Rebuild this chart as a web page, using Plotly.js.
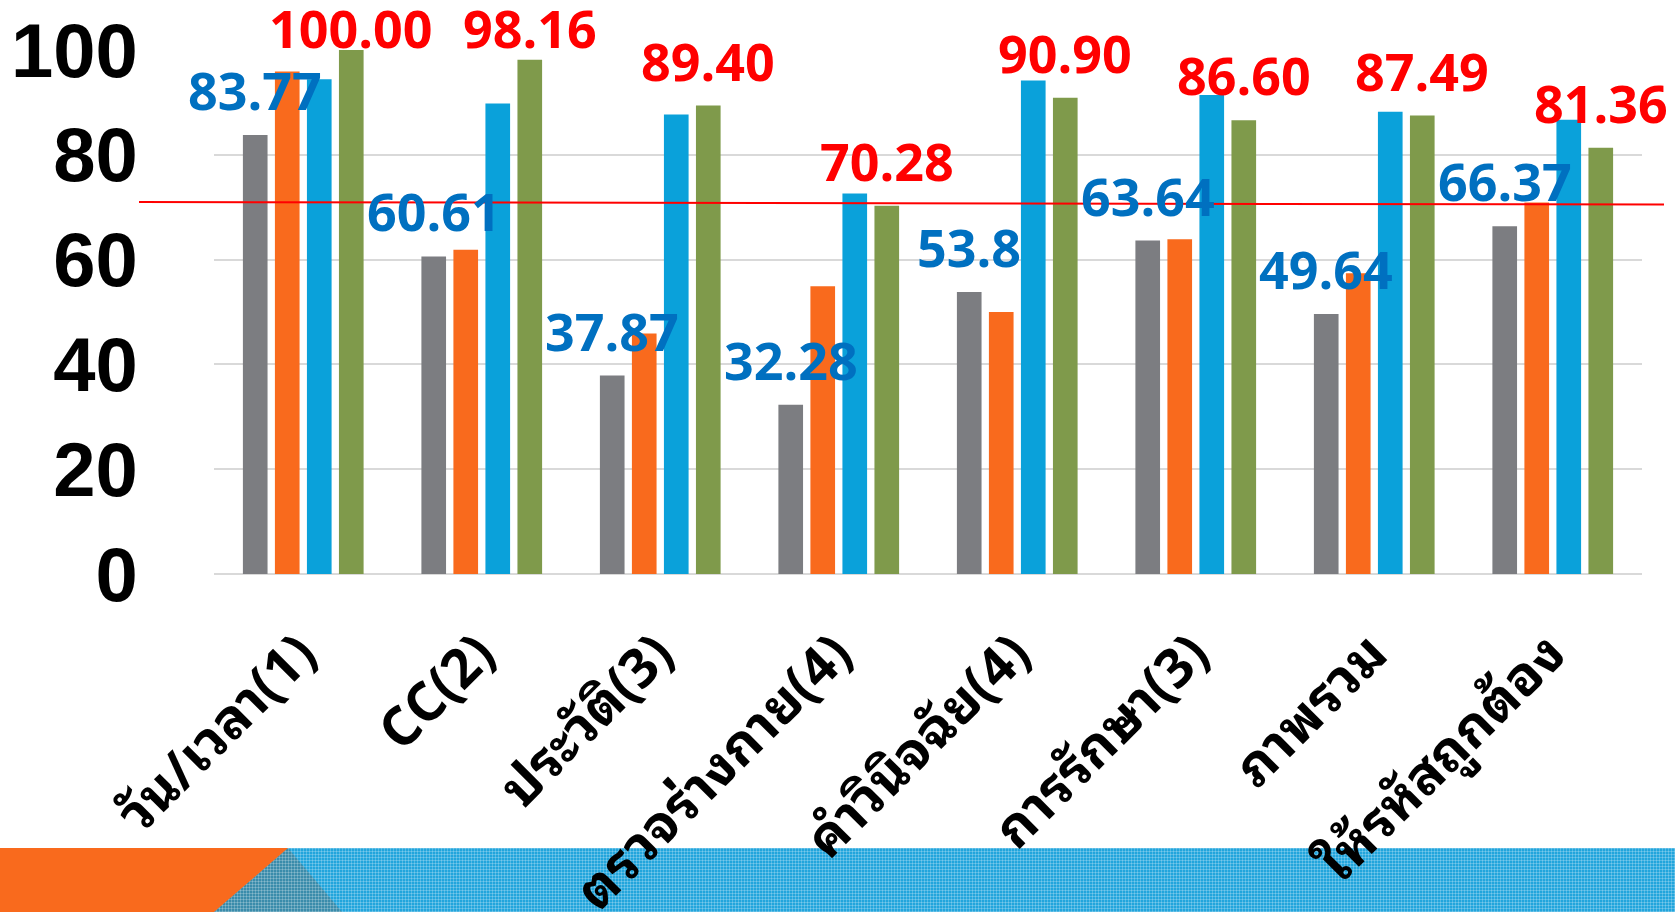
<!DOCTYPE html>
<html>
<head>
<meta charset="utf-8">
<script src="https://cdn.plot.ly/plotly-3.0.1.min.js"></script>
<style>
  html, body { margin: 0; padding: 0; background: #ffffff; }
  #wrap { position: relative; width: 1675px; height: 912px; overflow: hidden; }
  .band { position: absolute; left: 0; top: 848px; width: 1675px; height: 64px; }
  .dots {
    background-image:
      linear-gradient(90deg, rgba(255,255,255,0.22) 1px, transparent 1px),
      linear-gradient(rgba(255,255,255,0.22) 1px, transparent 1px);
    background-size: 3px 3px;
  }
  #band-blue { background-color: #22a5dc; }
  #band-dark { background-color: #3a8cab; clip-path: polygon(288px 0, 342px 64px, 214px 64px); }
  #band-orange { background: #f96a1d; clip-path: polygon(0 0, 288px 0, 214px 64px, 0 64px); }
  #chart { position: absolute; left: 0; top: 0; width: 1675px; height: 912px; }
</style>
</head>
<body>
<div id="wrap">
  <div class="band dots" id="band-blue"></div>
  <div class="band dots" id="band-dark"></div>
  <div class="band" id="band-orange"></div>
  <div id="chart"></div>
</div>
<script>
// Categories and scores (percent) for the four series
const categories = ['วัน/เวลา(1)', 'CC(2)', 'ประวัติ(3)', 'ตรวจร่างกาย(4)', 'คำวินิจฉัย(4)', 'การรักษา(3)', 'ภาพรวม', 'ให้รหัสถูกต้อง'];
const seriesGray   = [83.77, 60.61, 37.87, 32.28, 53.8, 63.64, 49.64, 66.37];
const seriesOrange = [95.9, 61.9, 45.9, 54.9, 50.0, 63.9, 57.4, 70.9];
const seriesBlue   = [94.4, 89.8, 87.7, 72.6, 94.2, 91.4, 88.2, 86.7];
const seriesGreen  = [100.00, 98.16, 89.40, 70.28, 90.90, 86.60, 87.49, 81.36];
const grayLabels   = ['83.77', '60.61', '37.87', '32.28', '53.8', '63.64', '49.64', '66.37'];
const greenLabels  = ['100.00', '98.16', '89.40', '70.28', '90.90', '86.60', '87.49', '81.36'];
const yTicks = [0, 20, 40, 60, 80, 100];
const targetLine = [71.0, 70.5];   // reference line, left and right end

const colors = { gray: '#7c7d81', orange: '#f96a1d', blue: '#0aa1da', green: '#7f9a4b' };

// plot geometry
const W = 1675, H = 912;
const margin = { l: 214, r: 33, t: 50, b: 338, pad: 0 };
const plotH = H - margin.t - margin.b;
const plotW = W - margin.l - margin.r;
const yMax = 100;
const pxPerUnit = plotH / yMax;
const bargap = 0.2825, nSeries = 4;
const slot = (1 - bargap) / nSeries;
const offGray = -1.5 * slot, offGreen = 1.5 * slot;

const labelFont = { family: '"Open Sans", "Noto Sans", sans-serif', size: 52, weight: 700 };
const labelGap = 24, labelDescent = 16, topLimit = 49;

// keep value labels inside the page at the top
function labelShift(v) {
  const barTop = margin.t + (yMax - v) * pxPerUnit;
  return Math.min(labelGap, barTop - topLimit) - labelDescent;
}

const traces = [
  { name: 'gray', values: seriesGray, color: colors.gray },
  { name: 'orange', values: seriesOrange, color: colors.orange },
  { name: 'blue', values: seriesBlue, color: colors.blue },
  { name: 'green', values: seriesGreen, color: colors.green }
].map(s => ({
  type: 'bar', x: categories, y: s.values, name: s.name,
  marker: { color: s.color }, hoverinfo: 'x+y'
}));

const annotations = [];
categories.forEach((c, i) => {
  annotations.push({
    x: i + offGray, y: seriesGray[i], xref: 'x', yref: 'y',
    text: grayLabels[i], showarrow: false, xanchor: 'center', yanchor: 'bottom',
    yshift: labelShift(seriesGray[i]), font: Object.assign({ color: '#0070c0' }, labelFont)
  });
  annotations.push({
    x: i + offGreen, y: seriesGreen[i], xref: 'x', yref: 'y',
    text: greenLabels[i], showarrow: false, xanchor: 'center', yanchor: 'bottom',
    yshift: labelShift(seriesGreen[i]), font: Object.assign({ color: '#ff0000' }, labelFont)
  });
});

const layout = {
  width: W, height: H, margin: margin,
  paper_bgcolor: 'rgba(0,0,0,0)', plot_bgcolor: 'rgba(0,0,0,0)',
  showlegend: false,
  barmode: 'group', bargap: bargap, bargroupgap: 0.23,
  xaxis: {
    type: 'category', autorange: false, range: [-0.5, categories.length - 0.5],
    tickangle: -45,
    tickfont: { family: '"Open Sans", Tahoma, "Leelawadee UI", "Noto Sans Thai Looped", Loma, Garuda, Waree, "Tlwg Typo", Kinnari, Norasi, "Noto Sans Thai", sans-serif', size: 54, weight: 700, color: '#000' },
    ticks: 'outside', ticklen: 25, tickcolor: 'rgba(0,0,0,0)', ticklabelshift: -3,
    showgrid: false, showline: false, zeroline: false, fixedrange: true
  },
  yaxis: {
    autorange: false, range: [0, yMax], tickvals: yTicks, ticktext: yTicks.map(String),
    tickfont: { family: '"Liberation Sans", Arial, sans-serif', size: 76, weight: 700, color: '#000' },
    ticks: 'outside', ticklen: 60, tickcolor: 'rgba(0,0,0,0)',
    showgrid: true, gridcolor: '#d9d9d9', gridwidth: 2,
    zeroline: true, zerolinecolor: '#d9d9d9', zerolinewidth: 2,
    showline: false, fixedrange: true
  },
  shapes: [{
    type: 'line', xref: 'paper', yref: 'y',
    x0: (139 - margin.l) / plotW, x1: (1664 - margin.l) / plotW,
    y0: targetLine[0], y1: targetLine[1],
    line: { color: '#ff0000', width: 2 }, layer: 'above'
  }],
  annotations: annotations
};

Plotly.newPlot('chart', traces, layout, { displayModeBar: false, staticPlot: true });
</script>
</body>
</html>
